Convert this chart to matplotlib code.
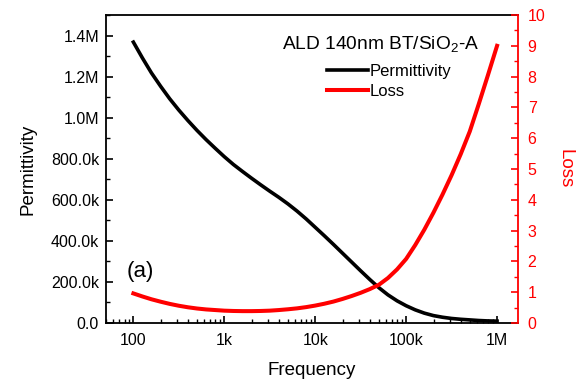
import matplotlib
matplotlib.use('agg')
import matplotlib.pyplot as plt
from matplotlib.ticker import FixedLocator, LogLocator, MultipleLocator, NullFormatter

plt.rcParams['font.family'] = ['Liberation Sans', 'DejaVu Sans']
plt.rcParams['mathtext.fontset'] = 'custom'
plt.rcParams['mathtext.rm'] = 'Liberation Sans'
plt.rcParams['mathtext.it'] = 'Liberation Sans:italic'

# frequency points (Hz), 10 per decade
freq = [100, 126, 158, 200, 251, 316, 398, 501, 631, 794,
        1000, 1259, 1585, 1995, 2512, 3162, 3981, 5012, 6310, 7943,
        10000, 12589, 15849, 19953, 25119, 31623, 39811, 50119, 63096, 79433,
        100000, 125893, 158489, 199526, 251189, 316228, 398107, 501187, 630957, 794328,
        1000000]
permittivity = [1.368e6, 1.29e6, 1.218e6, 1.152e6, 1.092e6, 1.037e6, 0.986e6, 0.938e6, 0.893e6, 0.851e6,
                0.81e6, 0.772e6, 0.738e6, 0.705e6, 0.673e6, 0.642e6, 0.612e6, 0.58e6, 0.545e6, 0.507e6,
                0.466e6, 0.425e6, 0.383e6, 0.34e6, 0.297e6, 0.254e6, 0.212e6, 0.172e6, 0.137e6, 0.108e6,
                0.084e6, 0.064e6, 0.048e6, 0.036e6, 0.028e6, 0.022e6, 0.018e6, 0.015e6, 0.012e6, 0.01e6,
                0.009e6]
loss = [0.96, 0.86, 0.77, 0.69, 0.62, 0.56, 0.51, 0.47, 0.44, 0.42,
        0.40, 0.39, 0.385, 0.385, 0.39, 0.40, 0.42, 0.445, 0.475, 0.515,
        0.565, 0.625, 0.695, 0.78, 0.875, 0.98, 1.1, 1.24, 1.46, 1.74,
        2.08, 2.53, 3.03, 3.58, 4.17, 4.8, 5.48, 6.22, 7.12, 8.05,
        9.0]

x_ticks = [1e2, 1e3, 1e4, 1e5, 1e6]
x_labels = ['100', '1k', '10k', '100k', '1M']
perm_ticks = [0, 2e5, 4e5, 6e5, 8e5, 1e6, 1.2e6, 1.4e6]
perm_labels = ['0.0', '200.0k', '400.0k', '600.0k', '800.0k', '1.0M', '1.2M', '1.4M']

fig = plt.figure(figsize=(5.78, 3.83), dpi=100)
ax = fig.add_axes([0.1834, 0.1567, 0.7128, 0.8041])
ax2 = ax.twinx()

l1, = ax.plot(freq, permittivity, color='black', lw=2.6, label='Permittivity')
l2, = ax2.plot(freq, loss, color='#ff0000', lw=2.9, label='Loss')

ax.set_xscale('log')
ax.set_xlim(50, 1.7e6)
ax.set_ylim(0, 1.5e6)
ax2.set_ylim(0, 10)

ax.xaxis.set_major_locator(FixedLocator(x_ticks))
ax.set_xticklabels(x_labels)
ax.xaxis.set_minor_locator(LogLocator(base=10, subs=range(2, 10), numticks=20))
ax.xaxis.set_minor_formatter(NullFormatter())
ax.yaxis.set_major_locator(FixedLocator(perm_ticks))
ax.set_yticklabels(perm_labels)
ax.yaxis.set_minor_locator(MultipleLocator(1e5))
ax2.yaxis.set_major_locator(MultipleLocator(1))
ax2.yaxis.set_minor_locator(MultipleLocator(0.5))

ax.tick_params(which='both', direction='in', labelsize=11.5, top=False, right=False)
ax.tick_params(which='major', length=5, width=1.2)
ax.tick_params(which='minor', length=3, width=1)
ax.tick_params(axis='x', pad=7)
ax.tick_params(axis='y', pad=5)
ax2.tick_params(which='both', direction='in', colors='#ff0000', labelsize=11.5, pad=7)
ax2.tick_params(which='major', length=5, width=1.2)
ax2.tick_params(which='minor', length=3, width=1)

for s in ['left', 'bottom', 'top']:
    ax.spines[s].set_linewidth(1.3)
ax.spines['right'].set_visible(False)
ax2.spines['right'].set_color('#ff0000')
ax2.spines['right'].set_linewidth(1.3)
for s in ['left', 'bottom', 'top']:
    ax2.spines[s].set_visible(False)

ax.set_xlabel('Frequency', fontsize=13.5, labelpad=10)
ax.set_ylabel('Permittivity', fontsize=13.5, labelpad=10)
ax2.set_ylabel('Loss', fontsize=13.5, color='#ff0000', rotation=270, labelpad=20)

ax.text(0.428, 0.905, r'ALD 140nm BT/SiO$_2$-A', transform=ax.transAxes,
        fontsize=13.8, va='center', ha='left')
ax.text(0.05, 0.167, '(a)', transform=ax.transAxes, fontsize=16,
        va='center', ha='left')

ax.legend(handles=[l1, l2], loc='upper left', bbox_to_anchor=(0.536, 0.84),
          frameon=False, fontsize=12, borderpad=0, borderaxespad=0,
          handlelength=2.45, handletextpad=0.12, labelspacing=0.3)

fig.savefig('out.png', dpi=100)
